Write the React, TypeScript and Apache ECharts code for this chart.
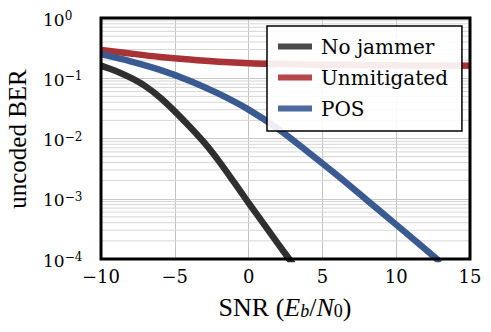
import React, { useEffect, useRef } from 'react';
import * as echarts from 'echarts';

// SNR (dB) and uncoded BER
const snrNoJammer = [-10, -9, -8, -7, -6, -5, -4, -3, -2, -1, 0, 1, 2, 2.75, 3.0];
const berNoJammer = [0.162, 0.132, 0.102, 0.0741, 0.0479, 0.0282, 0.0158, 0.00851, 0.00417, 0.0019, 8.5e-4, 3.9e-4, 1.78e-4, 1.0e-4, 8.3e-5];

const snrUnmitigated = [-10, -8, -6, -4, -2, 0, 2.5, 5, 7.5, 10, 12.5, 15];
const berUnmitigated = [0.295, 0.257, 0.226, 0.204, 0.188, 0.178, 0.172, 0.168, 0.166, 0.164, 0.163, 0.162];

const snrPos = [-10, -8, -6, -4, -2, 0, 2, 4, 6, 8, 10, 12.75, 13.0];
const berPos = [0.251, 0.191, 0.138, 0.0912, 0.055, 0.0302, 0.01445, 0.00603, 0.00245, 9.55e-4, 3.72e-4, 1.0e-4, 8.9e-5];

const xMin = -10;
const xMax = 15;
const xStep = 5;
const yMin = 1e-4;
const yMax = 1;

const minorGridValues = [
  2e-4, 3e-4, 4e-4, 5e-4, 6e-4, 7e-4, 8e-4, 9e-4,
  2e-3, 3e-3, 4e-3, 5e-3, 6e-3, 7e-3, 8e-3, 9e-3,
  2e-2, 3e-2, 4e-2, 5e-2, 6e-2, 7e-2, 8e-2, 9e-2,
  2e-1, 3e-1, 4e-1, 5e-1, 6e-1, 7e-1, 8e-1, 9e-1,
];

const seriesNames = ['No jammer', 'Unmitigated', 'POS'];
const lineColors = ['#2f2f2f', '#a83236', '#3a5a92'];
const legendColors = ['#4a4a4a', '#b5464a', '#4b6a9f'];

const FONT = 'Liberation Serif';
const LABEL_FONT = 'DejaVu Serif';

function zip(xs: number[], ys: number[]) {
  return xs.map((x, i) => [x, ys[i]]);
}

export default function App() {
  const ref = useRef<HTMLDivElement>(null);

  useEffect(() => {
    if (!ref.current) return;
    const chart = echarts.init(ref.current, undefined, { renderer: 'svg' });

    const gridSeries = minorGridValues.map((v) => ({
      type: 'line',
      name: 'grid' + v,
      data: [[xMin, v], [xMax, v]],
      symbol: 'none',
      silent: true,
      z: 1,
      lineStyle: { color: '#d6d6d6', width: 1 },
      tooltip: { show: false },
    }));

    const curveData = [
      zip(snrNoJammer, berNoJammer),
      zip(snrUnmitigated, berUnmitigated),
      zip(snrPos, berPos),
    ];

    const curves = seriesNames.map((name, i) => ({
      type: 'line',
      name,
      data: curveData[i],
      symbol: 'none',
      smooth: 0.3,
      z: 3,
      color: lineColors[i],
      lineStyle: { color: lineColors[i], width: 6.5, cap: 'butt' },
    }));

    const option: any = {
      animation: false,
      grid: { left: 101, top: 18, right: 21, bottom: 73, containLabel: false },
      xAxis: {
        type: 'value',
        min: xMin,
        max: xMax,
        interval: xStep,
        axisLine: { show: false },
        axisTick: { show: false },
        splitLine: { show: true, lineStyle: { color: '#c3c3c3', width: 1 } },
        axisLabel: {
          color: '#000',
          margin: 7,
          fontFamily: LABEL_FONT,
          fontSize: 18,
          lineHeight: 20,
          showMinLabel: true,
          showMaxLabel: true,
          formatter: (v: number) => (v < 0 ? '\u2212' + -v : String(v)),
        },
      },
      yAxis: {
        type: 'log',
        logBase: 10,
        min: yMin,
        max: yMax,
        axisLine: { show: false },
        axisTick: { show: false },
        splitLine: { show: true, lineStyle: { color: '#c8c8c8', width: 1 } },
        axisLabel: {
          align: 'left',
          margin: 58,
          color: '#000',
          fontFamily: LABEL_FONT,
          showMinLabel: true,
          showMaxLabel: true,
          formatter: (v: number) => {
            const e = Math.round(Math.log10(v));
            return '{b|10}{s|' + (e < 0 ? '\u2212' + -e : String(e)) + '}';
          },
          rich: {
            b: { fontFamily: LABEL_FONT, fontSize: 17, lineHeight: 16, verticalAlign: 'bottom', color: '#000' },
            s: { fontFamily: LABEL_FONT, fontSize: 12, lineHeight: 20, padding: [0, 0, 4, 0], color: '#000' },
          },
        },
      },
      legend: {
        data: seriesNames.map((n, i) => ({ name: n, itemStyle: { color: legendColors[i] } })),
        orient: 'vertical',
        left: 267,
        top: 26,
        icon: 'rect',
        itemWidth: 34,
        itemHeight: 6,
        itemGap: 6,
        padding: [8, 14, 10, 11],
        backgroundColor: 'rgba(255,255,255,0.9)',
        borderColor: '#000',
        borderWidth: 1.5,
        borderRadius: 0,
        textStyle: {
          fontFamily: LABEL_FONT,
          fontSize: 20,
          fontWeight: 'normal',
          fontStyle: 'normal',
          lineHeight: 25,
          color: '#000',
          padding: [0, 0, 0, 4],
        },
        selectedMode: false,
      },
      graphic: [
        {
          type: 'rect',
          z: 100,
          silent: true,
          shape: { x: 101, y: 18, width: 369, height: 241 },
          style: { fill: 'none', stroke: '#000', lineWidth: 3 },
        },
        {
          type: 'text',
          z: 100,
          x: 285,
          y: 307,
          style: {
            text: '{n|SNR (}{i|E}{si|b}{n|/}{i|N}{sub|0}{n|)}',
            textAlign: 'center',
            textVerticalAlign: 'middle',
            align: 'center',
            verticalAlign: 'middle',
            fill: '#000',
            rich: {
              n: { fontFamily: FONT, fontSize: 26, lineHeight: 26, verticalAlign: 'top', fill: '#000' },
              i: { fontFamily: FONT, fontSize: 26, fontStyle: 'italic', lineHeight: 26, verticalAlign: 'top', fill: '#000' },
              si: { fontFamily: FONT, fontSize: 18, fontStyle: 'italic', lineHeight: 12, verticalAlign: 'bottom', fill: '#000' },
              sub: { fontFamily: FONT, fontSize: 18, lineHeight: 12, verticalAlign: 'bottom', fill: '#000' },
            },
          },
        },
        {
          type: 'text',
          z: 100,
          x: 17,
          y: 139,
          rotation: Math.PI / 2,
          style: {
            text: 'uncoded BER',
            fontFamily: FONT,
            fontSize: 25,
            fill: '#000',
            textAlign: 'center',
            textVerticalAlign: 'middle',
            align: 'center',
            verticalAlign: 'middle',
          },
        },
      ],
      series: [...gridSeries, ...curves],
    };

    chart.setOption(option);
    return () => chart.dispose();
  }, []);

  return (
    <div
      ref={ref}
      style={{ position: 'absolute', left: 0, top: 0, width: 491, height: 332, background: '#fff' }}
    />
  );
}
